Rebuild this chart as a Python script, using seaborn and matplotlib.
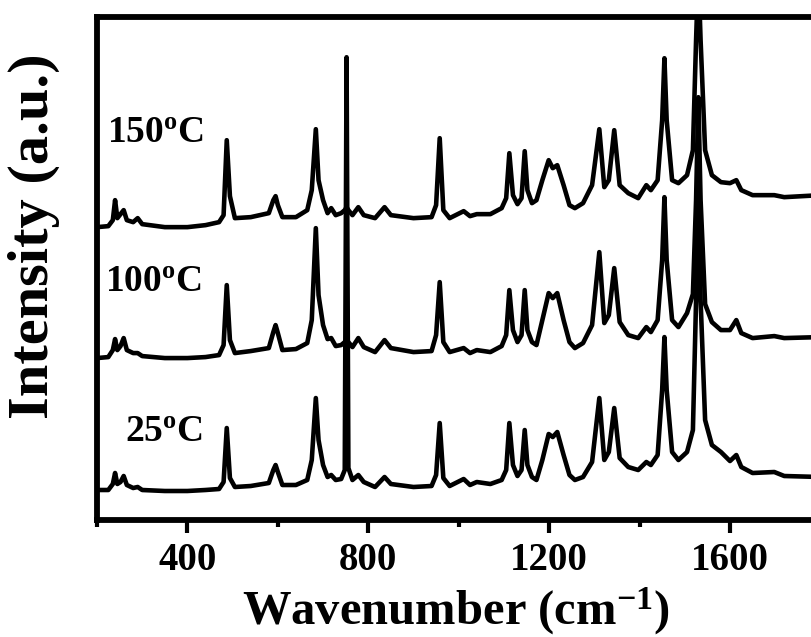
import numpy as np
import pandas as pd
import seaborn as sns
import matplotlib.pyplot as plt
from matplotlib.ticker import MultipleLocator, NullLocator

# Raman shift (cm-1)
wavenumber = [200, 225, 235, 240, 245, 252, 259, 266, 280, 290, 300, 350, 400, 440, 470,
              480, 487, 494, 505, 540, 580, 590, 595, 600, 610, 640, 665, 675, 684, 690,
              700, 710, 718, 728, 740, 748, 752, 756, 765, 778, 790, 815, 836, 850, 900,
              940, 950, 958, 966, 980, 1011, 1025, 1040, 1070, 1095, 1105, 1112, 1120, 1130,
              1139, 1146, 1152, 1162, 1172, 1185, 1199, 1208, 1218, 1232, 1245, 1257, 1275,
              1295, 1311, 1322, 1332, 1344, 1356, 1375, 1397, 1415, 1425, 1440, 1450, 1455,
              1460, 1472, 1486, 1505, 1518, 1525, 1530, 1535, 1545, 1560, 1580, 1600, 1614,
              1625, 1650, 1698, 1720, 1800]

# stacked intensities (a.u., already offset)
int_25 = [29, 29, 35, 46, 35, 37, 43, 34, 31, 32, 29, 28, 28, 29, 30,
          37, 91, 41, 32, 33, 36, 49, 54, 47, 34, 34, 39, 59, 121, 79,
          54, 42, 44, 39, 40, 49, 462, 51, 39, 44, 37, 32, 42, 35, 32,
          33, 44, 96, 41, 33, 40, 34, 37, 35, 39, 49, 96, 54, 43,
          49, 89, 54, 42, 39, 59, 85, 82, 87, 64, 44, 39, 42,
          57, 121, 59, 67, 111, 61, 52, 49, 57, 54, 64, 129, 182,
          129, 67, 59, 67, 89, 219, 366, 219, 99, 74, 67, 58, 64,
          52, 46, 47, 43, 42]

int_100 = [161, 162, 169, 180, 169, 173, 181, 169, 166, 166, 163, 161, 161, 162, 164,
           174, 234, 179, 166, 168, 171, 187, 194, 186, 169, 170, 176, 199, 291, 224,
           194, 180, 181, 173, 174, 177, 179, 177, 172, 181, 172, 167, 179, 171, 167,
           168, 184, 237, 177, 167, 171, 166, 169, 167, 173, 184, 229, 189, 177,
           184, 229, 189, 177, 174, 199, 226, 221, 226, 199, 177, 171, 176,
           194, 267, 196, 204, 251, 197, 184, 181, 192, 187, 199, 259, 322,
           259, 199, 192, 206, 225, 319, 422, 319, 215, 197, 189, 189, 199,
           186, 181, 183, 181, 182]

int_150 = [292, 293, 299, 319, 301, 305, 309, 299, 297, 301, 295, 292, 292, 294, 297,
           304, 379, 323, 301, 302, 306, 319, 323, 314, 302, 302, 309, 329, 390, 339,
           319, 306, 311, 304, 306, 309, 312, 309, 304, 312, 304, 301, 312, 304, 301,
           302, 314, 381, 309, 301, 308, 303, 305, 305, 311, 321, 366, 324, 315,
           321, 368, 329, 316, 319, 339, 359, 351, 354, 334, 314, 311, 316,
           334, 390, 332, 339, 389, 334, 326, 321, 334, 329, 339, 399, 461,
           399, 339, 336, 344, 369, 479, 549, 479, 369, 344, 337, 336, 339,
           329, 324, 324, 322, 324]

temps = ["25", "100", "150"]
label_x = [261, 218, 222]
label_y = [77, 227, 376]

df = pd.concat([
    pd.DataFrame({"wavenumber": wavenumber, "intensity": vals, "temp": t})
    for t, vals in zip(temps, [int_25, int_100, int_150])
])

sns.set_theme(style="ticks")
plt.rcParams["font.family"] = ["Liberation Serif", "DejaVu Serif"]
plt.rcParams["font.weight"] = "bold"
plt.rcParams["mathtext.default"] = "regular"
plt.rcParams["text.color"] = "black"
plt.rcParams["axes.labelcolor"] = "black"
plt.rcParams["xtick.color"] = "black"
plt.rcParams["axes.edgecolor"] = "black"

fig = plt.figure(figsize=(8.11, 6.37), dpi=100)
ax = fig.add_axes([0.1196, 0.1837, 0.892, 0.790])

sns.lineplot(data=df, x="wavenumber", y="intensity", hue="temp",
             palette={t: "black" for t in temps}, estimator=None, sort=False,
             linewidth=3.3, legend=False, ax=ax)

for t, lx, ly in zip(temps, label_x, label_y):
    ax.text(lx, ly, t + "$^{o}$C", fontsize=27, fontweight="bold",
            ha="left", va="baseline", color="black")

ax.set_xlim(200, 1800)
ax.set_ylim(-1, 502.5)
ax.xaxis.set_major_locator(MultipleLocator(400))
ax.xaxis.set_minor_locator(MultipleLocator(200))
ax.yaxis.set_major_locator(NullLocator())
ax.tick_params(axis="x", which="major", direction="out", length=9, width=3,
               labelsize=28, pad=7, colors="black")
ax.tick_params(axis="x", which="minor", direction="out", length=5, width=3,
               colors="black")
for lab in ax.get_xticklabels():
    lab.set_fontweight("bold")
for sp in ax.spines.values():
    sp.set_linewidth(4.2)
    sp.set_color("black")

ax.set_xlabel("Wavenumber (cm$^{-1}$)", fontsize=35, fontweight="bold",
              va="baseline", color="black")
ax.xaxis.set_label_coords(0.497, -0.207)
ax.set_ylabel("Intensity (a.u.)", fontsize=42, fontweight="bold",
              va="center", color="black")
ax.yaxis.set_label_coords(-0.087, 0.564)

fig.savefig("out.png", dpi=100)
